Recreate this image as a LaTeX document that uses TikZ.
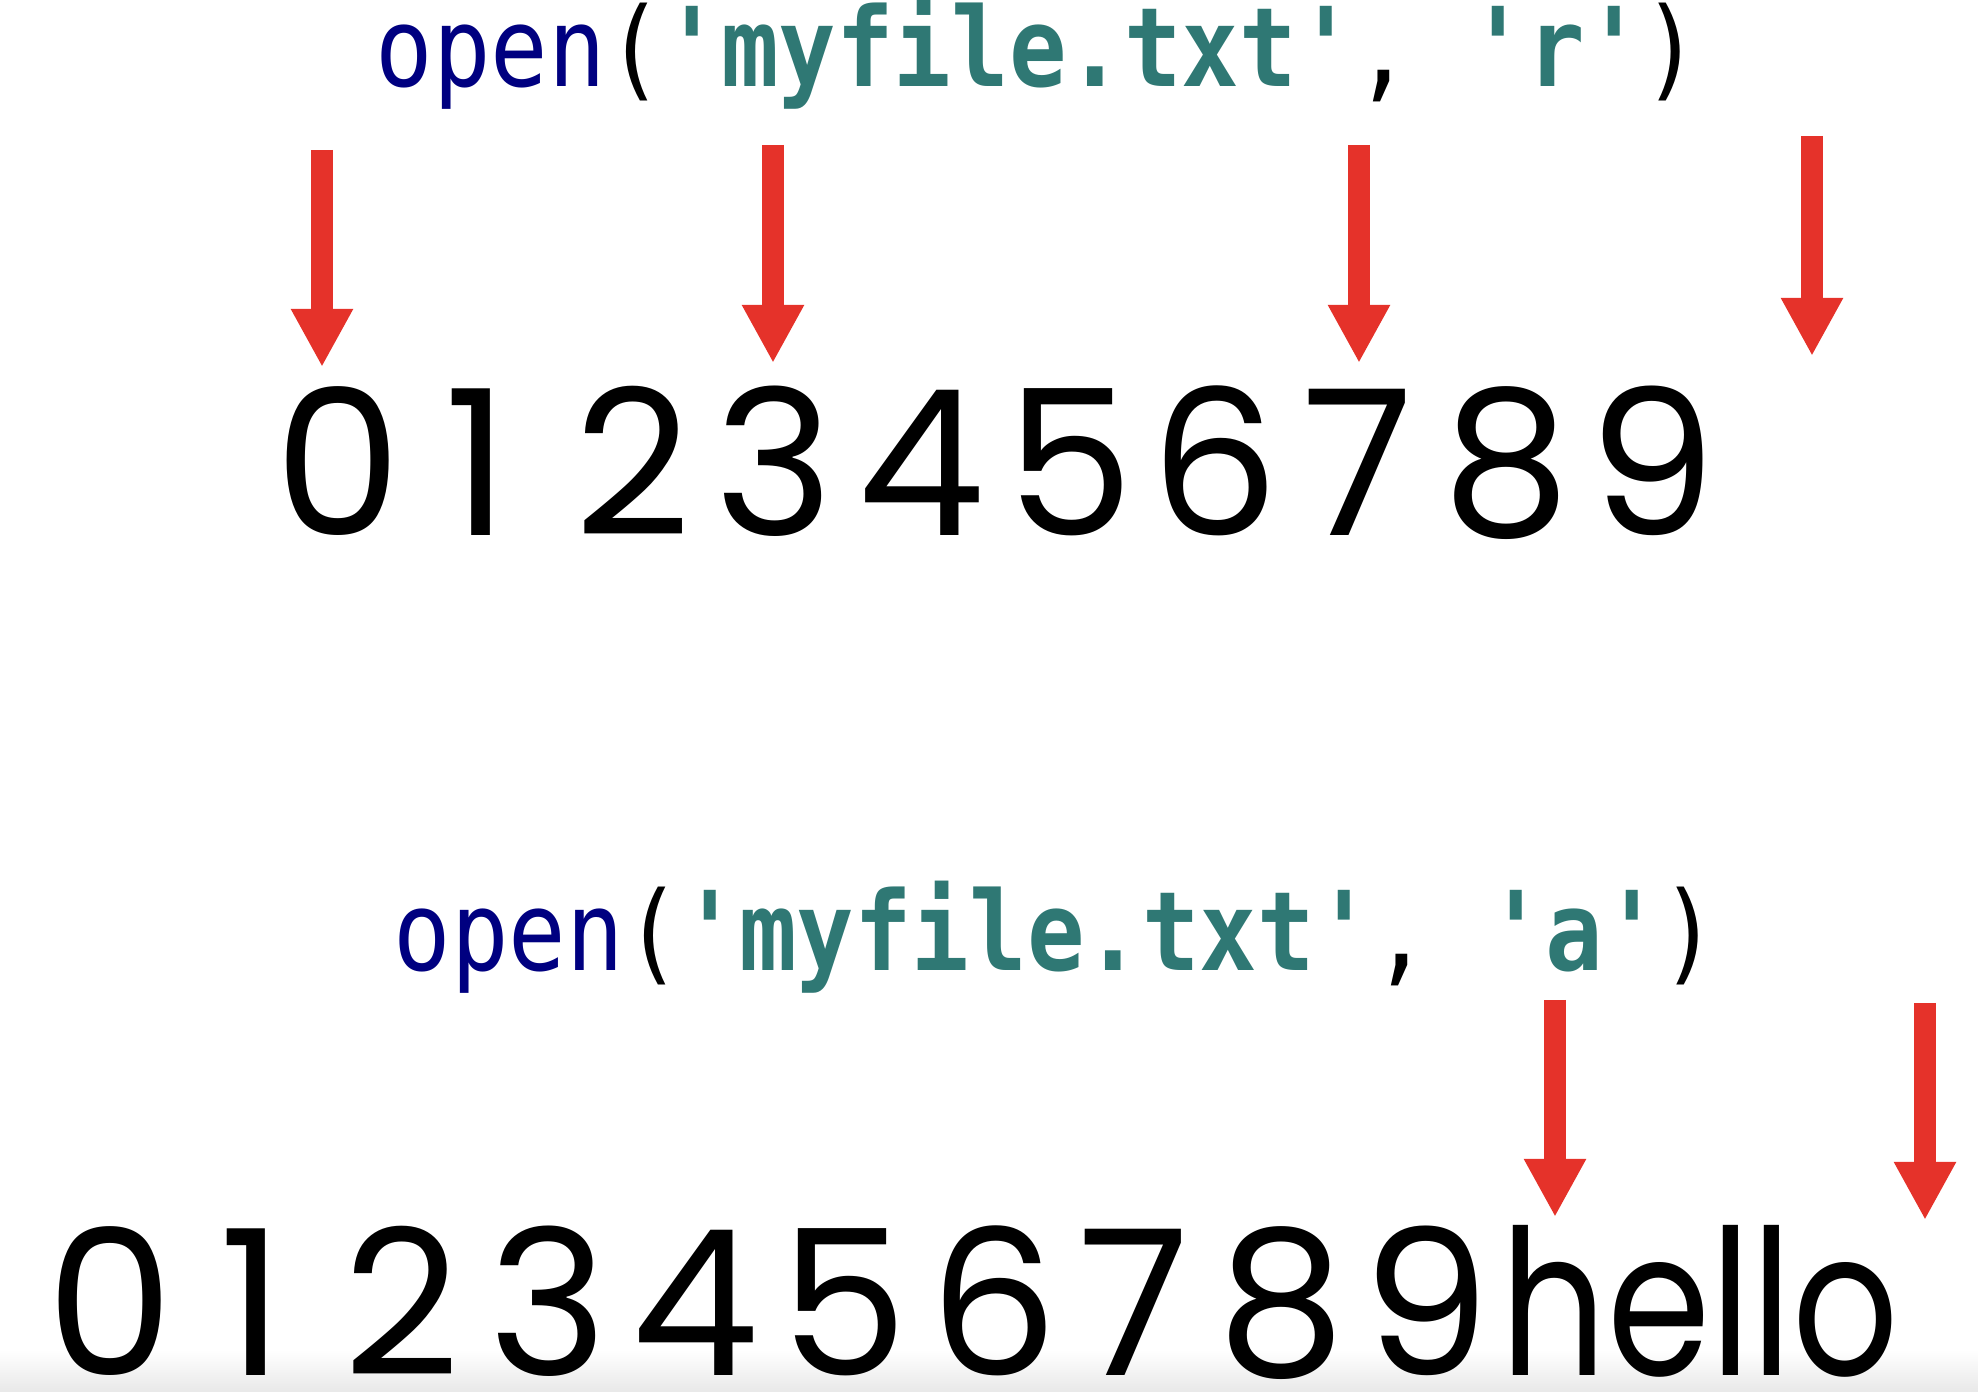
\documentclass[tikz,border=0pt]{standalone}
\usepackage{fontspec}
\usepackage{tikz}
\usetikzlibrary{arrows.meta}
\newfontfamily\codefont{DejaVu Sans Mono}
\newfontfamily\handfont{Poppins}
\definecolor{kwnavy}{HTML}{000080}
\definecolor{strteal}{HTML}{2F7874}
\definecolor{arrowred}{HTML}{E5322A}
\newcommand{\sq}{\textquotesingle}
\newcommand{\tallcode}[1]{\scalebox{1}[1.15]{#1}}

\begin{document}
\begin{tikzpicture}[x=0.01cm, y=-0.01cm]

\useasboundingbox (0,0) rectangle (1978,1392);
\shade[top color=white, bottom color=black!9] (0,1350) rectangle (1978,1392);

\tikzstyle{every node}=[inner sep=0pt, anchor=base]
\tikzstyle{code}=[font=\codefont\fontsize{27.2}{32}\selectfont, anchor=base west]
\tikzstyle{digit}=[font=\handfont\fontsize{57.7}{70}\selectfont]
\tikzstyle{pointer}=[draw=arrowred, line width=6pt, -{Triangle[length=16.5pt, width=16.5pt]}]

\draw (375,87) node[code] (openr)
  {\tallcode{{\color{kwnavy}open}({\bfseries\color{strteal}\sq myfile.txt\sq}, {\bfseries\color{strteal}\sq r\sq})}};
\draw (393,971) node[code] (opena)
  {\tallcode{{\color{kwnavy}open}({\bfseries\color{strteal}\sq myfile.txt\sq}, {\bfseries\color{strteal}\sq a\sq})}};

\foreach \x [count=\i from 0] in {338,477,633,774,921,1070,1215,1358,1507,1652}
  \draw (\x,536) node[digit] (r\i) {\i};
\foreach \x [count=\i from 0] in {110,252,402,548,695,844,994,1134,1282,1426}
  \draw (\x,1376) node[digit] (a\i) {\i};
\draw (1500,1376) node[digit, anchor=base west] (hello) {\scalebox{0.82}[1]{hello}};

\coordinate (rt0) at (322,150);  \coordinate (rp0) at (322,367);
\coordinate (rt3) at (773,145);  \coordinate (rp3) at (773,363);
\coordinate (rt7) at (1359,145); \coordinate (rp7) at (1359,363);
\coordinate (rtend) at (1812,136); \coordinate (rpend) at (1812,356);
\coordinate (at0) at (1555,1000); \coordinate (ap0) at (1555,1217);
\coordinate (atend) at (1925,1003); \coordinate (apend) at (1925,1220);

\draw[pointer] (rt0) -- (rp0);
\draw[pointer] (rt3) -- (rp3);
\draw[pointer] (rt7) -- (rp7);
\draw[pointer] (rtend) -- (rpend);
\draw[pointer] (at0) -- (ap0);
\draw[pointer] (atend) -- (apend);

\end{tikzpicture}
\end{document}
